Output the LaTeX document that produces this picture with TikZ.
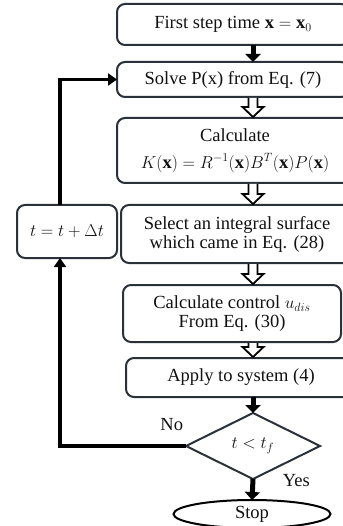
\documentclass[tikz,border=0pt]{standalone}
\usepackage{fontspec}
\setmainfont{Liberation Serif}
\usetikzlibrary{positioning, arrows.meta, calc, shapes.geometric}
\definecolor{clrborder}{HTML}{2B3139}
\definecolor{clrline}{HTML}{000000}
\definecolor{clrfill}{HTML}{FFFFFF}
\definecolor{clrtext}{HTML}{111111}

\begin{document}
\begin{tikzpicture}[
    x=1pt, y=1pt,
    every node/.style={font=\fontsize{18.5}{19}\selectfont, text=clrtext},
    block/.style={draw=clrborder, fill=clrfill, rounded corners=8pt, line width=2pt,
                  align=center, inner sep=2pt, outer sep=0pt},
    decision/.style={diamond, draw=clrborder, fill=clrfill, line width=2pt, aspect=2,
                     inner sep=1pt, outer sep=0pt},
    terminal/.style={ellipse, draw=clrline, fill=clrfill, line width=2pt, inner sep=0pt, outer sep=0pt},
    thickarrow/.style={-{Triangle[width=15pt,length=8pt]}, line width=5pt, color=clrline},
    looparrow/.style={-{Triangle[width=12pt,length=9pt]}, line width=3.3pt, color=clrline},
    hollow/.style={draw=clrline, fill=clrfill, line width=1.8pt, line join=miter},
    branch/.style={inner sep=0pt},
]
\useasboundingbox (0,0) rectangle (342,-526);
\node[block, minimum width=232pt, minimum height=41pt] (n_1) at (233,-24.5) {First step time $\mathbf{x}=\mathbf{x}_0$};
\node[block, minimum width=232pt, minimum height=35pt, below=17pt of n_1] (n_2) {Solve P(x) from Eq. (7)};
\node[block, minimum width=236pt, minimum height=65pt, below=21pt of n_2, xshift=2pt] (n_3) {Calculate\\[8pt] $K(\mathbf{x})=R^{-1}(\mathbf{x})B^{T}(\mathbf{x})P(\mathbf{x})$};
\node[block, minimum width=232pt, minimum height=58pt, below=22pt of n_3, xshift=2pt] (n_4) {Select an integral surface\\which came in Eq. (28)};
\node[block, minimum width=218pt, minimum height=57pt, below=22pt of n_4, xshift=-5pt] (n_5) {Calculate control $u_{dis}$\\From Eq. (30)};
\node[block, minimum width=230pt, minimum height=39pt, below=16pt of n_5, xshift=9pt] (n_6) {Apply to system (4)};
\node[decision, minimum width=134pt, minimum height=66pt, below=16pt of n_6, xshift=12pt] (n_dia) {$t<t_f$};
\node[terminal, minimum width=157pt, minimum height=28pt, below=21pt of n_dia, xshift=-1pt] (n_stop) {Stop};
\node[block, minimum width=100pt, minimum height=53pt, left=4pt of n_4, yshift=2.5pt] (n_t) {$t=t+\Delta t$};
\coordinate[left=126pt of n_dia.west] (c_loop);
\node[branch, above left=15pt and 2.7pt of n_dia.west] (l_no) {No};
\node[branch, right=29.6pt of n_dia.south, yshift=-2pt] (l_yes) {Yes};
\draw[thickarrow] (n_1.south -| n_dia.north) -- (n_2.north -| n_dia.north);
\foreach \a/\b in {n_2/n_3, n_3/n_4, n_4/n_5, n_5/n_6}
  \draw[hollow] let \p1=(\a.south -| n_dia.north), \p2=(\b.north -| n_dia.north) in
    (\x1-4.5pt,\y1-1pt) -- (\x1-4.5pt,\y2+11pt) -- (\x1-10.5pt,\y2+11pt) -- (\x1,\y2+1pt)
    -- (\x1+10.5pt,\y2+11pt) -- (\x1+4.5pt,\y2+11pt) -- (\x1+4.5pt,\y1-1pt);
\draw[thickarrow] (n_6.south -| n_dia.north) -- (n_dia.north);
\draw[thickarrow] (n_dia.south) -- (n_stop.north);
\draw[looparrow] (n_dia.west) -- (c_loop) -- (c_loop |- n_t.south);
\draw[looparrow] (c_loop |- n_t.north) |- (n_2.west);
\end{tikzpicture}
\end{document}
